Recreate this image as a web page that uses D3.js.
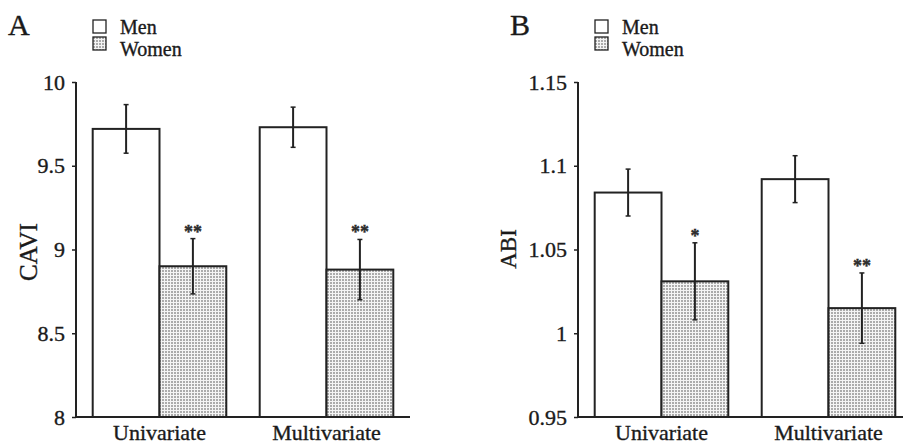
<!DOCTYPE html>
<html>
<head>
<meta charset="utf-8">
<script src="https://cdn.jsdelivr.net/npm/d3@7"></script>
<style>
  body { margin: 0; background: #fff; }
  svg { display: block; font-family: "Liberation Serif", "Times New Roman", serif; }
  text { fill: #1a1a1a; stroke: #1a1a1a; stroke-width: 0.35px; }
</style>
</head>
<body>
<script>
// data
var groups = ["Univariate", "Multivariate"];
var sexes = ["Men", "Women"];

var caviMen = [9.72, 9.73];
var caviWomen = [8.90, 8.88];
var caviMenErr = [0.145, 0.12];
var caviWomenErr = [0.165, 0.18];
var caviWomenStars = ["**", "**"];
var caviTicks = [8, 8.5, 9, 9.5, 10];
var caviTickLabels = ["8", "8.5", "9", "9.5", "10"];

var abiMen = [1.084, 1.092];
var abiWomen = [1.031, 1.015];
var abiMenErr = [0.014, 0.014];
var abiWomenErr = [0.023, 0.021];
var abiWomenStars = ["*", "**"];
var abiTicks = [0.95, 1, 1.05, 1.1, 1.15];
var abiTickLabels = ["0.95", "1", "1.05", "1.1", "1.15"];

var W = 903, H = 446;

var svg = d3.select("body").append("svg")
  .attr("width", W)
  .attr("height", H);

// dotted grey fill for the women bars
var defs = svg.append("defs");
var pat = defs.append("pattern")
  .attr("id", "dots")
  .attr("patternUnits", "userSpaceOnUse")
  .attr("width", 3)
  .attr("height", 3);
pat.append("rect").attr("width", 3).attr("height", 3).attr("fill", "#f4f4f4");
pat.append("rect").attr("width", 2).attr("height", 2).attr("fill", "#ababab");

function drawPanel(opt) {
  var g = svg.append("g");

  var x = d3.scaleBand()
    .domain(groups)
    .range([opt.x0, opt.x1])
    .paddingInner(0.2)
    .paddingOuter(0.1);

  var xs = d3.scaleBand()
    .domain(sexes)
    .range([0, x.bandwidth()])
    .padding(0);

  var y = d3.scaleLinear()
    .domain(opt.domain)
    .range([417, 82]);

  var rows = groups.map(function(grp, i) {
    return [
      { grp: grp, sex: "Men", v: opt.men[i], e: opt.menErr[i], star: "" },
      { grp: grp, sex: "Women", v: opt.women[i], e: opt.womenErr[i], star: opt.stars[i] }
    ];
  });
  var data = [].concat.apply([], rows);

  // bars
  g.selectAll(".bar")
    .data(data)
    .enter()
    .append("rect")
    .attr("class", "bar")
    .attr("x", function(d) { return x(d.grp) + xs(d.sex); })
    .attr("y", function(d) { return y(d.v); })
    .attr("width", xs.bandwidth())
    .attr("height", function(d) { return y(opt.domain[0]) - y(d.v); })
    .attr("fill", function(d) { return d.sex == "Men" ? "#fff" : "url(#dots)"; })
    .attr("stroke", "#222")
    .attr("stroke-width", 2);

  // error bars
  var cx = function(d) { return x(d.grp) + xs(d.sex) + xs.bandwidth() / 2; };
  g.selectAll(".err")
    .data(data)
    .enter()
    .append("line")
    .attr("x1", cx).attr("x2", cx)
    .attr("y1", function(d) { return y(d.v + d.e); })
    .attr("y2", function(d) { return y(d.v - d.e); })
    .attr("stroke", "#222")
    .attr("stroke-width", 2);
  ["top", "bot"].forEach(function(k) {
    g.selectAll(".cap" + k)
      .data(data)
      .enter()
      .append("line")
      .attr("x1", function(d) { return cx(d) - 2.5; })
      .attr("x2", function(d) { return cx(d) + 2.5; })
      .attr("y1", function(d) { return y(k == "top" ? d.v + d.e : d.v - d.e); })
      .attr("y2", function(d) { return y(k == "top" ? d.v + d.e : d.v - d.e); })
      .attr("stroke", "#222")
      .attr("stroke-width", 1.5);
  });

  // significance stars
  g.selectAll(".star")
    .data(data.filter(function(d) { return d.star; }))
    .enter()
    .append("text")
    .attr("x", cx)
    .attr("y", function(d) { return y(d.v + d.e) - 1; })
    .attr("text-anchor", "middle")
    .attr("font-size", 18)
    .attr("font-weight", "bold")
    .style("fill", "#333")
    .text(function(d) { return d.star; });

  // y axis
  var yAxis = d3.axisLeft(y)
    .tickValues(opt.ticks)
    .tickFormat(function(d, i) { return opt.tickLabels[i]; })
    .tickSize(4)
    .tickPadding(7);
  var ya = g.append("g")
    .attr("transform", "translate(" + opt.x0 + ",0)")
    .call(yAxis)
    .attr("font-family", null);
  ya.select(".domain").remove();
  ya.append("line")
    .attr("x1", 0).attr("x2", 0)
    .attr("y1", 82).attr("y2", 418)
    .attr("stroke", "#222").attr("stroke-width", 2);
  ya.selectAll(".tick line").attr("stroke", "#222").attr("stroke-width", 1.5);
  ya.selectAll(".tick text")
    .attr("font-size", 22);

  // x axis
  var xAxis = d3.axisBottom(x).tickSize(0).tickPadding(7);
  var xa = g.append("g")
    .attr("transform", "translate(0,417)")
    .call(xAxis)
    .attr("font-family", null);
  xa.select(".domain").remove();
  xa.append("line")
    .attr("x1", opt.x0).attr("x2", opt.x1)
    .attr("stroke", "#222").attr("stroke-width", 2);
  xa.selectAll(".tick text")
    .attr("font-size", 22);

  // y title
  g.append("text")
    .attr("transform", "translate(" + (opt.x0 - opt.titleOff) + "," + opt.titleY + ") rotate(-90)")
    .attr("text-anchor", "middle")
    .attr("font-size", opt.titleSize)
    .text(opt.title);

  // panel letter
  g.append("text")
    .attr("x", opt.x0 - 68)
    .attr("y", 35)
    .attr("font-size", 30)
    .text(opt.letter);

  // legend
  var leg = g.selectAll(".leg")
    .data(sexes)
    .enter()
    .append("g")
    .attr("transform", function(d, i) { return "translate(" + (opt.x0 + 17) + "," + (20 + i * 17) + ")"; });
  leg.append("rect")
    .attr("width", 13).attr("height", 13)
    .attr("fill", function(d) { return d == "Men" ? "#fff" : "url(#dots)"; })
    .attr("stroke", "#222")
    .attr("stroke-width", 1.3);
  leg.append("text")
    .attr("x", 27)
    .attr("y", function(d, i) { return 14 + i * 5; })
    .attr("font-size", 20)
    .text(function(d) { return d; });
}

drawPanel({
  letter: "A", title: "CAVI", titleSize: 25, titleOff: 39, titleY: 252,
  x0: 76, x1: 410, domain: [8, 10],
  men: caviMen, women: caviWomen, menErr: caviMenErr, womenErr: caviWomenErr,
  stars: caviWomenStars, ticks: caviTicks, tickLabels: caviTickLabels
});

drawPanel({
  letter: "B", title: "ABI", titleSize: 23, titleOff: 62, titleY: 249,
  x0: 578, x1: 912, domain: [0.95, 1.15],
  men: abiMen, women: abiWomen, menErr: abiMenErr, womenErr: abiWomenErr,
  stars: abiWomenStars, ticks: abiTicks, tickLabels: abiTickLabels
});
</script>
</body>
</html>
